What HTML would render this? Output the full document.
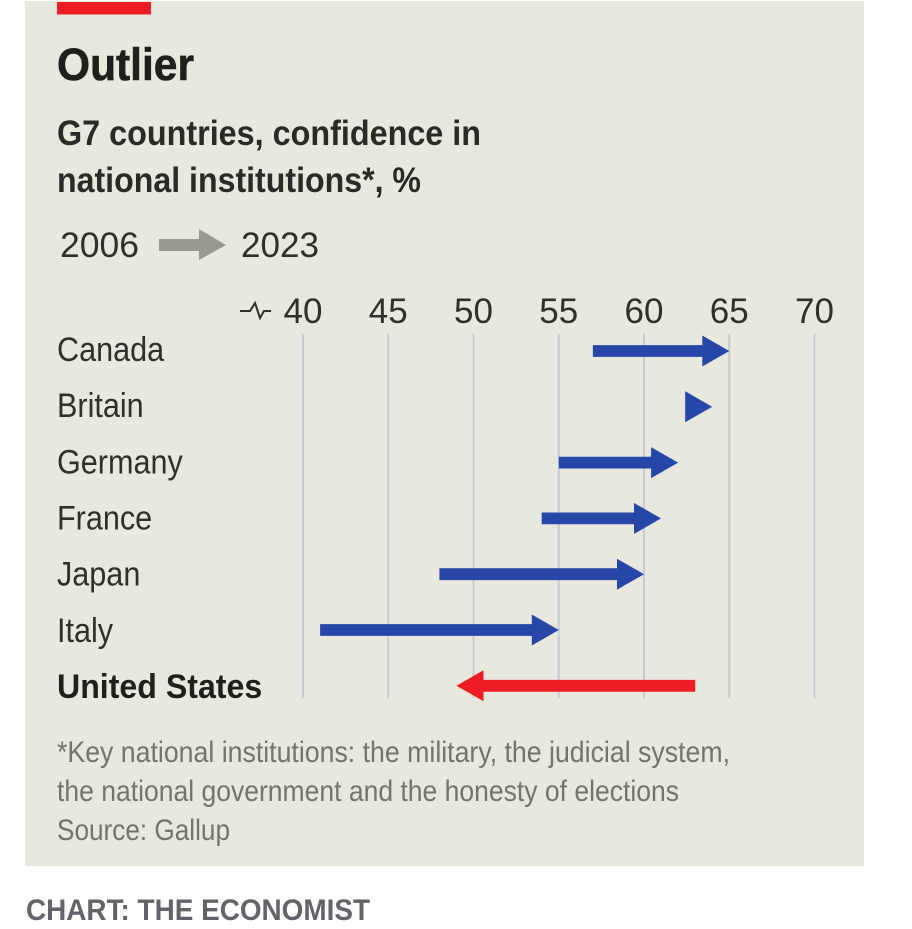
<!DOCTYPE html>
<html lang="en">
<head>
<meta charset="utf-8">
<title>Outlier</title>
<style>
html,body{margin:0;padding:0;background:#fff;width:912px;height:929px;overflow:hidden}
svg{display:block}
text{font-family:"Liberation Sans",sans-serif}
</style>
</head>
<body>
<svg id="chart" width="912" height="929" viewBox="0 0 912 929" xmlns="http://www.w3.org/2000/svg">
  <rect x="25" y="1" width="839" height="865" fill="#e9e8de"/>
  <rect x="57" y="2" width="94" height="12.5" fill="#ee1c25"/>
  <text x="57" y="80" font-size="45" font-weight="700" fill="#1f1f1c" stroke="#1f1f1c" stroke-width="0.6" textLength="137" lengthAdjust="spacingAndGlyphs">Outlier</text>
  <text x="57" y="145" font-size="35" font-weight="700" fill="#2a2a27" textLength="424" lengthAdjust="spacingAndGlyphs">G7 countries, confidence in</text>
  <text x="57" y="192" font-size="35" font-weight="700" fill="#2a2a27" textLength="364" lengthAdjust="spacingAndGlyphs">national institutions*, %</text>
  <text x="60" y="257" font-size="35" fill="#2f2f2b" textLength="79" lengthAdjust="spacingAndGlyphs">2006</text>
  <polygon points="159,239 199,239 199,229 226,245 199,260 199,251 159,251" fill="#979a90"/>
  <text x="241" y="257" font-size="35" fill="#2f2f2b" textLength="78" lengthAdjust="spacingAndGlyphs">2023</text>
  <polyline points="240,311 250,311 255,303 260,318 264,311 271,311" fill="none" stroke="#2f2f2b" stroke-width="2"/>
  <text x="57" y="762" font-size="30" fill="#73746d" textLength="673" lengthAdjust="spacingAndGlyphs">*Key national institutions: the military, the judicial system,</text>
  <text x="57" y="801" font-size="30" fill="#73746d" textLength="622" lengthAdjust="spacingAndGlyphs">the national government and the honesty of elections</text>
  <text x="57" y="840" font-size="30" fill="#73746d" textLength="173" lengthAdjust="spacingAndGlyphs">Source: Gallup</text>
  <text x="26" y="920" font-size="30" font-weight="700" fill="#63646a" textLength="344" lengthAdjust="spacingAndGlyphs">CHART: THE ECONOMIST</text>
  <g id="grid"></g>
  <g id="ticks"></g>
  <g id="labels"></g>
  <g id="arrows"></g>
</svg>
<script>
var countries = ["Canada", "Britain", "Germany", "France", "Japan", "Italy", "United States"];
var values2006 = [57, 63, 55, 54, 48, 41, 63];
var values2023 = [65, 64, 62, 61, 60, 55, 49];
var tickValues = [40, 45, 50, 55, 60, 65, 70];

var NS = "http://www.w3.org/2000/svg";
function x(v) { return 303 + (v - 40) * 17.05; }
function rowY(i) { return 351 + i * 55.8; }
function labelY(i) { return 361 + i * 56.15; }
function make(tag, parent) {
  var el = document.createElementNS(NS, tag);
  document.getElementById(parent).appendChild(el);
  return el;
}
function slug(s) { return s.toLowerCase().replace(/\s+/g, "-"); }

tickValues.forEach(function (t) {
  var line = make("line", "grid");
  
  
  line.setAttribute("x1", x(t));
  line.setAttribute("x2", x(t));
  line.setAttribute("y1", 334);
  line.setAttribute("y2", 698);
  line.setAttribute("stroke", "#c6cbd3");
  line.setAttribute("stroke-width", 2);

  var label = make("text", "ticks");
  
  
  label.setAttribute("x", x(t));
  label.setAttribute("y", 323);
  label.setAttribute("text-anchor", "middle");
  label.setAttribute("font-size", 35);
  label.setAttribute("fill", "#2f2f2b");
  label.textContent = t;
});

var HEAD_LEN = 27, HEAD_HALF = 15.5, SHAFT_HALF = 5.9;

countries.forEach(function (name, i) {
  var isOutlier = values2023[i] < values2006[i];
  var y = rowY(i);

  var label = make("text", "labels");
  
  
  label.setAttribute("transform", "translate(57," + labelY(i) + ") scale(" + (isOutlier ? 0.945 : 0.9) + ",1)");
  label.setAttribute("font-size", 34);
  label.setAttribute("font-weight", isOutlier ? 700 : 400);
  label.setAttribute("fill", isOutlier ? "#1f1f1c" : "#2f2f2b");
  label.textContent = name;

  var x0 = x(values2006[i]), x1 = x(values2023[i]);
  var dir = x1 >= x0 ? 1 : -1;
  var base = x1 - dir * HEAD_LEN;
  var pts;
  if ((base - x0) * dir > 0) {
    pts = [[x0, y - SHAFT_HALF], [base, y - SHAFT_HALF], [base, y - HEAD_HALF], [x1, y], [base, y + HEAD_HALF], [base, y + SHAFT_HALF], [x0, y + SHAFT_HALF]];
  } else {
    pts = [[base, y - HEAD_HALF], [x1, y], [base, y + HEAD_HALF]];
  }
  var arrow = make("polygon", "arrows");
  
  
  arrow.setAttribute("points", pts.map(function (p) { return p[0].toFixed(1) + "," + p[1].toFixed(1); }).join(" "));
  arrow.setAttribute("fill", isOutlier ? "#ee1c25" : "#2646a8");
});
</script>
</body>
</html>
